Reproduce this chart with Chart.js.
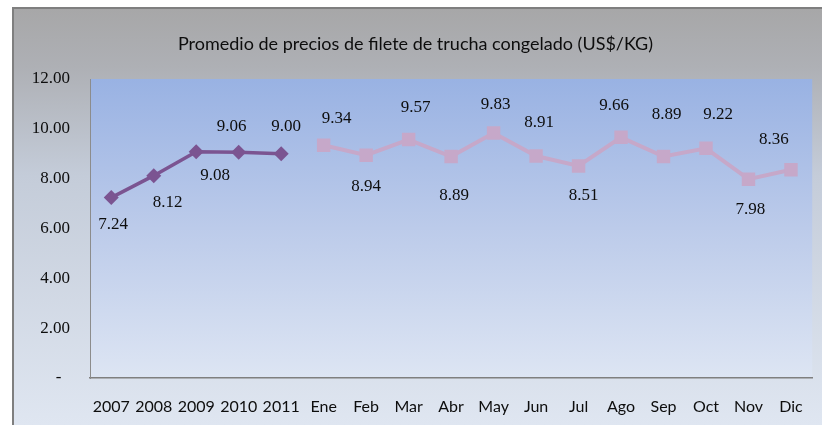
<!DOCTYPE html>
<html lang="es">
<head>
  <meta charset="UTF-8">
  <title>Precios filete de trucha</title>
  <style>
    body {
      margin: 0;
      padding: 0;
      background: #ffffff;
    }
    #contenedor {
      width: 822px;
      height: 425px;
    }
  </style>
</head>
<body>
  <div id="contenedor">
    <canvas id="graficoPrecios" width="822" height="425"></canvas>
  </div>

  <script src="https://cdn.jsdelivr.net/npm/chart.js"></script>
  <script>
    // Datos: promedio anual y luego mensual
    const anios = ['2007', '2008', '2009', '2010', '2011'];
    const meses = ['Ene', 'Feb', 'Mar', 'Abr', 'May', 'Jun', 'Jul', 'Ago', 'Sep', 'Oct', 'Nov', 'Dic'];
    const preciosAnuales = [7.24, 8.12, 9.08, 9.06, 9.00];
    const preciosMensuales = [9.34, 8.94, 9.57, 8.89, 9.83, 8.91, 8.51, 9.66, 8.89, 9.22, 7.98, 8.36];
    const marcasEjeY = [0, 2, 4, 6, 8, 10, 12];

    // desplazamiento [dx, dy] de cada etiqueta respecto a su punto
    const etiquetasAnuales = [[2, 27], [14, 27], [19, 24], [-7, -26], [5, -27]];
    const etiquetasMensuales = [[13, -27], [0, 31], [7, -32], [3, 39], [2, -29], [3, -33],
                                [5, 30], [-7, -32], [3, -42], [12, -34], [2, 30], [-17, -30]];

    const categorias = anios.concat(meses);
    const serieAnual = preciosAnuales.concat(meses.map(() => null));
    const serieMensual = anios.map(() => null).concat(preciosMensuales);

    // fondo del recuadro y del area de trazado
    const fondo = {
      id: 'fondo',
      beforeDraw(chart) {
        const ctx = chart.ctx;
        const area = chart.chartArea;
        ctx.save();
        ctx.fillStyle = '#ffffff';
        ctx.fillRect(0, 0, chart.width, chart.height);

        const g = ctx.createLinearGradient(0, 9, 0, chart.height);
        g.addColorStop(0, '#a7a7a8');
        g.addColorStop(0.14, '#aeb0b5');
        g.addColorStop(0.4, '#c4ccd9');
        g.addColorStop(1, '#dfe6f1');
        ctx.fillStyle = g;
        ctx.fillRect(14, 9, chart.width - 14, chart.height - 9);

        ctx.strokeStyle = '#7f7f7f';
        ctx.lineWidth = 2;
        ctx.beginPath();
        ctx.moveTo(13, chart.height);
        ctx.lineTo(13, 8);
        ctx.lineTo(chart.width, 8);
        ctx.stroke();

        const gp = ctx.createLinearGradient(0, area.top, 0, area.bottom);
        gp.addColorStop(0, '#99b2e3');
        gp.addColorStop(0.5, '#bccbea');
        gp.addColorStop(1, '#dde5f3');
        ctx.fillStyle = gp;
        ctx.fillRect(area.left, area.top, area.right - area.left, area.bottom - area.top);
        ctx.restore();
      }
    };

    // etiquetas de valor sobre/bajo cada punto
    const etiquetas = {
      id: 'etiquetas',
      afterDatasetsDraw(chart) {
        const ctx = chart.ctx;
        const desplazamientos = [etiquetasAnuales, etiquetasMensuales];
        ctx.save();
        ctx.font = '17px "Liberation Serif", serif';
        ctx.fillStyle = '#0d0d0d';
        ctx.textAlign = 'center';
        ctx.textBaseline = 'middle';
        chart.data.datasets.forEach((ds, d) => {
          const meta = chart.getDatasetMeta(d);
          let k = 0;
          ds.data.forEach((v, i) => {
            if (v === null) return;
            const p = meta.data[i];
            const [dx, dy] = desplazamientos[d][k++];
            ctx.fillText(v.toFixed(2), p.x + dx, p.y + dy);
          });
        });
        ctx.restore();
      }
    };

    const ctx = document.getElementById('graficoPrecios').getContext('2d');
    const grafico = new Chart(ctx, {
      type: 'line',
      data: {
        labels: categorias,
        datasets: [
          {
            label: 'Anual',
            data: serieAnual,
            borderColor: '#7b5491',
            backgroundColor: '#7b5491',
            borderWidth: 3.5,
            pointStyle: 'rectRot',
            pointRadius: 7.5,
            pointBorderWidth: 0,
            spanGaps: false
          },
          {
            label: 'Mensual',
            data: serieMensual,
            borderColor: '#c6a8c9',
            backgroundColor: '#c6a8c9',
            borderWidth: 4,
            pointStyle: 'rect',
            pointRadius: 9.5,
            pointBorderWidth: 0,
            spanGaps: false
          }
        ]
      },
      options: {
        responsive: false,
        animation: false,
        layout: {
          padding: { left: 14, right: 5, top: 0, bottom: 0 }
        },
        plugins: {
          legend: { display: false },
          tooltip: { enabled: false },
          title: {
            display: true,
            text: 'Promedio de precios de filete de trucha congelado (US$/KG)',
            color: '#0d0d0d',
            font: { family: 'Lato', size: 18, weight: 'normal' },
            padding: { top: 33, bottom: 24.4 }
          }
        },
        scales: {
          x: {
            offset: true,
            grid: { display: false, drawTicks: false },
            border: { display: true, color: '#7f7f7f', width: 1.5 },
            ticks: {
              color: '#0d0d0d',
              font: { family: 'Lato', size: 16 },
              padding: 19,
              autoSkip: false,
              maxRotation: 0
            },
            afterFit(scale) { scale.height = 47; }
          },
          y: {
            min: 0,
            max: 12,
            afterBuildTicks(scale) {
              scale.ticks = marcasEjeY.map(v => ({ value: v }));
            },
            grid: { display: false, drawTicks: false },
            border: { display: true, color: '#8c8c8c', width: 1 },
            ticks: {
              color: '#0d0d0d',
              font: { family: 'Liberation Serif', size: 17 },
              padding: 20,
              callback: v => v === 0 ? '-  ' : v.toFixed(2)
            },
            afterFit(scale) { scale.width = 76; }
          }
        }
      },
      plugins: [fondo, etiquetas]
    });
  </script>
</body>
</html>
